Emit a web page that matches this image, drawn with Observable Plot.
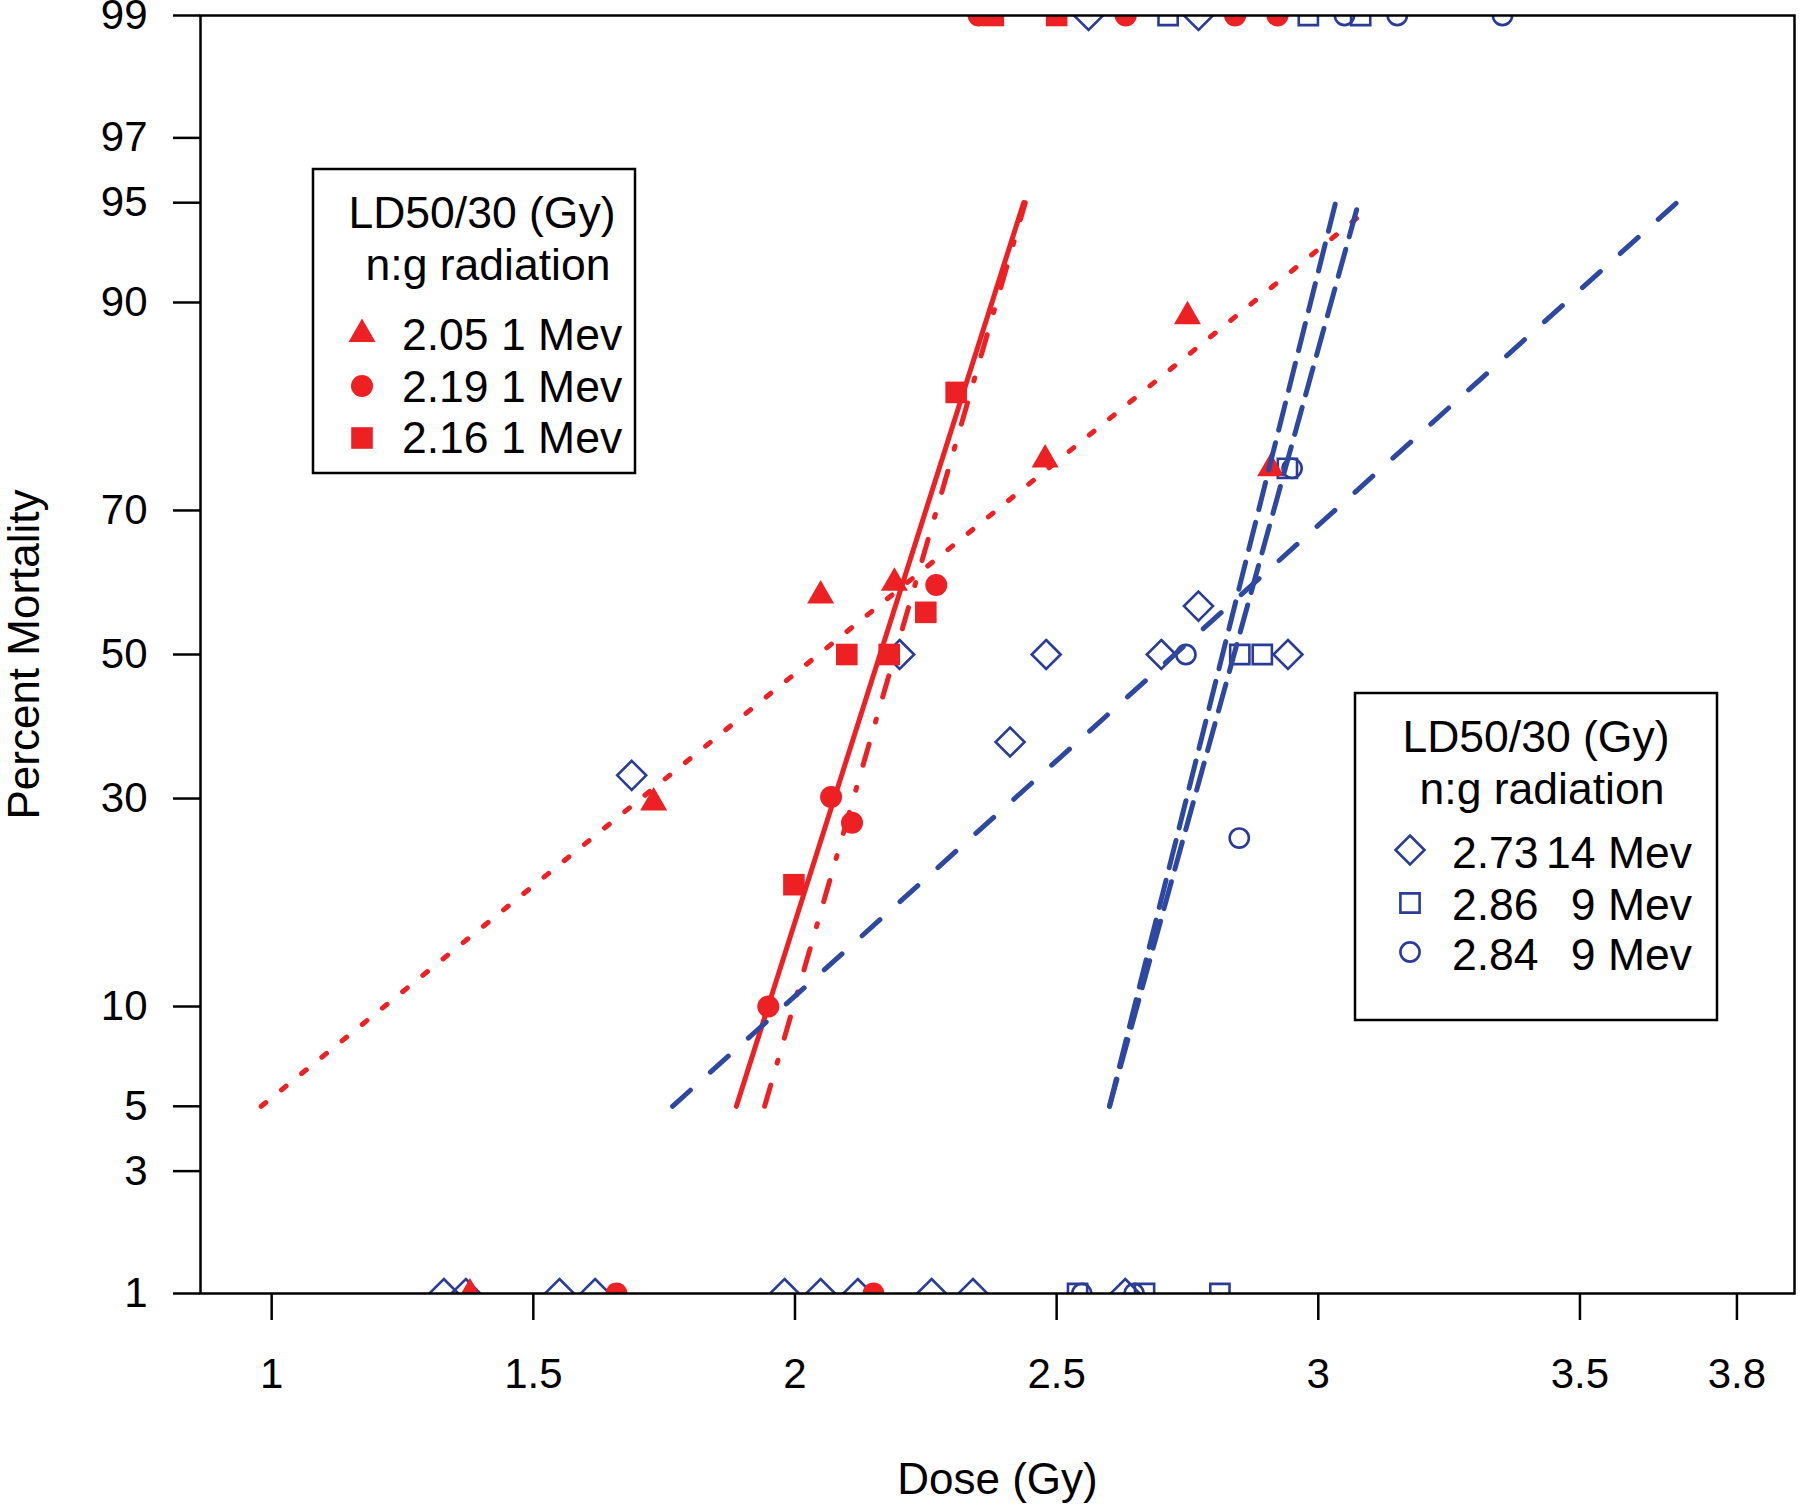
<!DOCTYPE html>
<html><head><meta charset="utf-8">
<script src="https://cdn.jsdelivr.net/npm/d3@7"></script>
<script src="https://cdn.jsdelivr.net/npm/@observablehq/plot@0.6"></script>
<style>
html,body{margin:0;padding:0;background:#fff;}
#chart svg [aria-label*="axis"] line, #chart svg [aria-label*="axis"] path {stroke-width: 2.5px;}
</style></head><body><div id="chart"></div>
<script>
// ---------- data (dose in Gy, percent mortality) ----------
const X_TICKS = [1, 1.5, 2, 2.5, 3, 3.5, 3.8];
const Y_TICKS = [1, 3, 5, 10, 30, 50, 70, 90, 95, 97, 99];

// red triangles: LD50/30 2.05, 1 MeV
const triDose = [1.379, 1.730, 2.049, 2.190, 2.478, 2.750, 2.909];
const triPct  = [1, 29.5, 58.5, 60.3, 76.1, 89.1, 75.1];
// red filled circles: 2.19, 1 MeV
const circDose = [1.659, 1.949, 2.069, 2.109, 2.150, 2.270, 2.351, 2.632, 2.841, 2.922];
const circPct  = [1, 10, 30.2, 27.0, 1, 60, 99, 99, 99, 99];
// red filled squares: 2.16, 1 MeV
const sqDose = [1.998, 2.099, 2.180, 2.250, 2.308, 2.379, 2.500];
const sqPct  = [20.1, 50, 50, 56.1, 83.0, 99, 99];
// blue open diamonds: 2.73, 14 MeV
const diaDose = [1.329, 1.371, 1.550, 1.618, 1.688, 1.980, 2.049, 2.120, 2.200, 2.261, 2.340, 2.411, 2.480, 2.561, 2.631, 2.700, 2.771, 2.771, 2.942];
const diaPct  = [1, 1, 1, 1, 33.0, 1, 1, 1, 50, 1, 1, 37.5, 50, 99, 1, 50, 57.0, 99, 50];
// blue open squares: 2.86, 9 MeV
const bsqDose = [2.540, 2.668, 2.713, 2.812, 2.850, 2.893, 2.941, 2.981, 3.081];
const bsqPct  = [1, 1, 99, 1, 50, 50, 75.1, 99, 99];
// blue open circles: 2.84, 9 MeV
const bcirDose = [2.548, 2.648, 2.747, 2.849, 2.950, 3.050, 3.151, 3.352];
const bcirPct  = [1, 1, 50, 25.2, 75.1, 99, 99, 99];

// fitted probit lines (end points)
const fitTriDose = [0.980, 3.080];  const fitTriPct = [5, 94.5];
const fitSqDose  = [1.888, 2.437];  const fitSqPct  = [5, 95];
const fitCircDose= [1.942, 2.440];  const fitCircPct= [5, 95];
const fitDiaDose = [1.766, 3.685];  const fitDiaPct = [5, 95];
const fitBcirDose= [2.601, 3.033];  const fitBcirPct= [5, 95];
const fitBsqDose = [2.601, 3.077];  const fitBsqPct = [5, 95];

// ---------- probit scale helper (inverse normal CDF, Acklam) ----------
function probit(p) {
  const a = [-3.969683028665376e+01, 2.209460984245205e+02, -2.759285104469687e+02, 1.383577518672690e+02, -3.066479806614716e+01, 2.506628277459239e+00];
  const b = [-5.447609879822406e+01, 1.615858368580409e+02, -1.556989798598866e+02, 6.680131188771972e+01, -1.328068155288572e+01];
  const c = [-7.784894002430293e-03, -3.223964580411365e-01, -2.400758277161838e+00, -2.549671032351590e+00, 4.374664141464968e+00, 2.938163982698783e+00];
  const d = [7.784695709041462e-03, 3.224671290700398e-01, 2.445134137142996e+00, 3.754408661907416e+00];
  const pl = 0.02425;
  if (p < pl) { const q = Math.sqrt(-2 * Math.log(p));
    return (((((c[0]*q+c[1])*q+c[2])*q+c[3])*q+c[4])*q+c[5]) / ((((d[0]*q+d[1])*q+d[2])*q+d[3])*q+1); }
  if (p <= 1 - pl) { const q = p - 0.5, r = q*q;
    return (((((a[0]*r+a[1])*r+a[2])*r+a[3])*r+a[4])*r+a[5])*q / (((((b[0]*r+b[1])*r+b[2])*r+b[3])*r+b[4])*r+1); }
  const q = Math.sqrt(-2 * Math.log(1 - p));
  return -(((((c[0]*q+c[1])*q+c[2])*q+c[3])*q+c[4])*q+c[5]) / ((((d[0]*q+d[1])*q+d[2])*q+d[3])*q+1);
}
const zip = (dose, pct) => dose.map((v, i) => ({dose: v, z: probit(pct[i] / 100)}));
const Y_TICK_Z = Y_TICKS.map(p => probit(p / 100));

const RED = "#ED2024", BLUE = "#2B3C98", BLUE_LINE = "#2E48A2";
const FONT = "'Liberation Sans', Arial, sans-serif";

// symbols
const symTri  = {draw(c){ c.moveTo(0,-15.5); c.lineTo(13.5,8); c.lineTo(-13.5,8); c.closePath(); }};
const symCirc = {draw(c){ c.moveTo(11,0); c.arc(0,0,11,0,2*Math.PI); c.closePath(); }};
const symSq   = {draw(c){ c.rect(-10.8,-10.8,21.6,21.6); }};
const symDia  = {draw(c){ c.moveTo(0,-14.5); c.lineTo(14.5,0); c.lineTo(0,14.5); c.lineTo(-14.5,0); c.closePath(); }};
const symSqO  = {draw(c){ c.rect(-9.6,-9.6,19.2,19.2); }};
const symCirO = {draw(c){ c.moveTo(9.6,0); c.arc(0,0,9.6,0,2*Math.PI); c.closePath(); }};

const filled = (dose, pct, sym) => Plot.dot(zip(dose, pct), {x: "dose", y: "z", symbol: sym, fill: RED, stroke: "none", clip: true});
const hollow = (dose, pct, sym) => Plot.dot(zip(dose, pct), {x: "dose", y: "z", symbol: sym, fill: "none", stroke: BLUE, strokeWidth: 2.6, clip: true});
const fit = (dose, pct, color, dash) => Plot.line(zip(dose, pct), {x: "dose", y: "z", stroke: color, strokeWidth: 5, strokeLinecap: "round", strokeDasharray: dash});

const svg = Plot.plot({
  width: 1800, height: 1504,
  marginLeft: 200, marginRight: 6, marginTop: 15, marginBottom: 211,
  style: {fontSize: "42px", fontFamily: FONT, background: "white", color: "black", overflow: "visible"},
  x: {domain: [0.864, 3.91], ticks: X_TICKS, tickFormat: d => String(d), tickSize: 27, tickPadding: 38, label: null},
  y: {domain: [probit(0.01), probit(0.99)], ticks: Y_TICK_Z,
      tickFormat: z => String(Y_TICKS[d3.minIndex(Y_TICK_Z, t => Math.abs(t - z))]),
      tickSize: 27, tickPadding: 26, label: null},
  marks: [
    hollow(diaDose, diaPct, symDia),
    hollow(bsqDose, bsqPct, symSqO),
    hollow(bcirDose, bcirPct, symCirO),
    filled(triDose, triPct, symTri),
    filled(circDose, circPct, symCirc),
    filled(sqDose, sqPct, symSq),
    fit(fitTriDose, fitTriPct, RED, "6,20"),
    fit(fitSqDose, fitSqPct, RED, null),
    fit(fitCircDose, fitCircPct, RED, "22,23,3,23"),
    fit(fitDiaDose, fitDiaPct, BLUE_LINE, "24,27"),
    fit(fitBcirDose, fitBcirPct, BLUE_LINE, "28,13"),
    fit(fitBsqDose, fitBsqPct, BLUE_LINE, "28,13"),
    Plot.frame({stroke: "black", strokeWidth: 2.5}),
    Plot.text(["Dose (Gy)"], {frameAnchor: "bottom", dy: 200, fontSize: 44, textAnchor: "middle"}),
    Plot.text(["Percent Mortality"], {frameAnchor: "left", dx: -176, rotate: -90, fontSize: 44, textAnchor: "middle"})
  ]
});
document.getElementById("chart").appendChild(svg);

// ---------- in-plot legends ----------
const LEG1 = [
  {sym: symTri, fill: RED, stroke: "none", num: "2.05 1 Mev", tail: null},
  {sym: symCirc, fill: RED, stroke: "none", num: "2.19 1 Mev", tail: null},
  {sym: symSq, fill: RED, stroke: "none", num: "2.16 1 Mev", tail: null}
];
const LEG2 = [
  {sym: symDia, fill: "none", stroke: BLUE, num: "2.73", tail: "14 Mev"},
  {sym: symSqO, fill: "none", stroke: BLUE, num: "2.86", tail: "9 Mev"},
  {sym: symCirO, fill: "none", stroke: BLUE, num: "2.84", tail: "9 Mev"}
];
function legend(box, titleX, entries, symX, textX, tailX, symY, textY) {
  const g = d3.select(svg).append("g")
    .attr("font-family", FONT).attr("font-size", 44.5).attr("fill", "black").attr("text-anchor", "start");
  g.append("rect").attr("x", box[0]).attr("y", box[1]).attr("width", box[2]).attr("height", box[3])
    .attr("fill", "white").attr("stroke", "black").attr("stroke-width", 2.5);
  g.append("text").attr("x", titleX[0]).attr("y", box[1] + 59).attr("text-anchor", "middle").text("LD50/30 (Gy)");
  g.append("text").attr("x", titleX[1]).attr("y", box[1] + 111).attr("text-anchor", "middle").text("n:g radiation");
  entries.forEach((e, i) => {
    g.append("path").attr("d", d3.symbol().type(e.sym)()).attr("transform", `translate(${symX},${symY[i]})`)
      .attr("fill", e.fill).attr("stroke", e.stroke).attr("stroke-width", 2.6);
    g.append("text").attr("x", textX).attr("y", textY[i]).attr("text-anchor", "start").text(e.num);
    if (e.tail) g.append("text").attr("x", tailX).attr("y", textY[i]).attr("text-anchor", "end").text(e.tail);
  });
}
legend([313, 169, 322, 304], [482, 488], LEG1, 362, 402, 622, [334, 386, 438], [350, 402, 453]);
legend([1355, 693, 362, 327], [1536, 1542], LEG2, 1410, 1452, 1692, [850, 903, 952], [868, 920, 970]);
</script></body></html>
